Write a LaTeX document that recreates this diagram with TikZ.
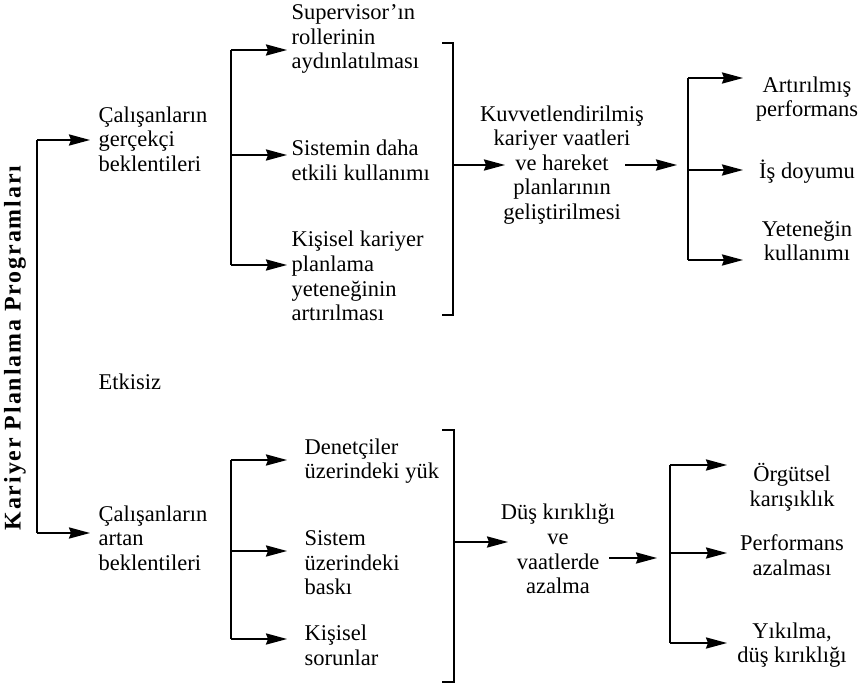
\documentclass[tikz,border=0pt]{standalone}
\usepackage{fontspec}
\setmainfont{Liberation Serif}
\usetikzlibrary{arrows.meta}

\begin{document}
\begin{tikzpicture}[x=0.025cm,y=-0.025cm,
  bar/.style={line width=1.3pt},
  arr/.style={line width=1pt,-{Stealth[length=15pt,width=8pt,inset=1.5pt]}},
  lbl/.style={align=left,inner sep=1pt,anchor=west,font=\fontsize{16}{17.5}\selectfont},
  clbl/.style={align=center,inner sep=1pt,font=\fontsize{16}{17.5}\selectfont}]

\useasboundingbox (0,0) rectangle (863,690);

% vertical title
\node[rotate=90,inner sep=0pt,font=\fontsize{17}{19}\selectfont\bfseries\addfontfeatures{LetterSpace=8}] (kpp) at (15,348) {Kariyer Planlama Programları};

% first level
\node[lbl] (gercek) at (97,139) {Çalışanların\\gerçekçi\\beklentileri};
\node[lbl] (etkisiz) at (97,382) {Etkisiz};
\node[lbl] (artan) at (97,538) {Çalışanların\\artan\\beklentileri};

\coordinate (r1) at (37,140);
\coordinate (r2) at (37,533);
\coordinate (rtip) at (90,0);
\draw[bar] (r1) -- (r2);
\draw[arr] (r1) -- (r1 -| rtip);
\draw[arr] (r2) -- (r2 -| rtip);

% upper branch
\node[lbl] (sup) at (290,39) {Supervisor'ın\\rollerinin\\aydınlatılması};
\node[lbl] (sis) at (290,160) {Sistemin daha\\etkili kullanımı};
\node[lbl] (kis) at (290,276) {Kişisel kariyer\\planlama\\yeteneğinin\\artırılması};

\coordinate (t1) at (231,50);
\coordinate (t2) at (231,155);
\coordinate (t3) at (231,265);
\coordinate (ttip) at (287,0);
\draw[bar] (t1) -- (t3);
\draw[arr] (t1) -- (t1 -| ttip);
\draw[arr] (t2) -- (t2 -| ttip);
\draw[arr] (t3) -- (t3 -| ttip);

\draw[bar] (442,43) -- (453,43) -- (453,315) -- (442,315);

\node[clbl] (kuv) at (562,165) {Kuvvetlendirilmiş\\kariyer vaatleri\\ve hareket\\planlarının\\geliştirilmesi};
\coordinate (kb) at (453,165);
\coordinate (kin) at (505,165);
\coordinate (kout) at (625,165);
\coordinate (kend) at (677,165);
\draw[arr] (kb) -- (kin);
\draw[arr] (kout) -- (kend);

\node[clbl] (art) at (807,99) {Artırılmış\\performans};
\node[clbl] (isd) at (807,172) {İş doyumu};
\node[clbl] (yet) at (807,241) {Yeteneğin\\kullanımı};

\coordinate (s1) at (688,78);
\coordinate (s2) at (688,170);
\coordinate (s3) at (688,260);
\coordinate (stip) at (743,0);
\draw[bar] (s1) -- (s3);
\draw[arr] (s1) -- (s1 -| stip);
\draw[arr] (s2) -- (s2 -| stip);
\draw[arr] (s3) -- (s3 -| stip);

% lower branch
\node[lbl] (den) at (303,461) {Denetçiler\\üzerindeki yük};
\node[lbl] (sst) at (303,563) {Sistem\\üzerindeki\\baskı};
\node[lbl] (kss) at (303,645) {Kişisel\\sorunlar};

\coordinate (u1) at (231,460);
\coordinate (u2) at (231,551);
\coordinate (u3) at (231,639);
\draw[bar] (u1) -- (u3);
\draw[arr] (u1) -- (u1 -| ttip);
\draw[arr] (u2) -- (u2 -| ttip);
\draw[arr] (u3) -- (u3 -| ttip);

\draw[bar] (442,430) -- (454,430) -- (454,682) -- (442,682);

\node[clbl] (dus) at (558,549) {Düş kırıklığı\\ve\\vaatlerde\\azalma};
\coordinate (db) at (454,542);
\coordinate (din) at (508,542);
\coordinate (dout) at (609,558);
\coordinate (dend) at (657,558);
\draw[arr] (db) -- (din);
\draw[arr] (dout) -- (dend);

\node[clbl] (org) at (792,487) {Örgütsel\\karışıklık};
\node[clbl] (perf) at (792,555) {Performans\\azalması};
\node[clbl] (yik) at (792,645) {Yıkılma,\\düş kırıklığı};

\coordinate (v1) at (670,465);
\coordinate (v2) at (670,553);
\coordinate (v3) at (670,643);
\coordinate (vtip) at (727,0);
\draw[bar] (v1) -- (v3);
\draw[arr] (v1) -- (v1 -| vtip);
\draw[arr] (v2) -- (v2 -| vtip);
\draw[arr] (v3) -- (v3 -| vtip);

\end{tikzpicture}
\end{document}
